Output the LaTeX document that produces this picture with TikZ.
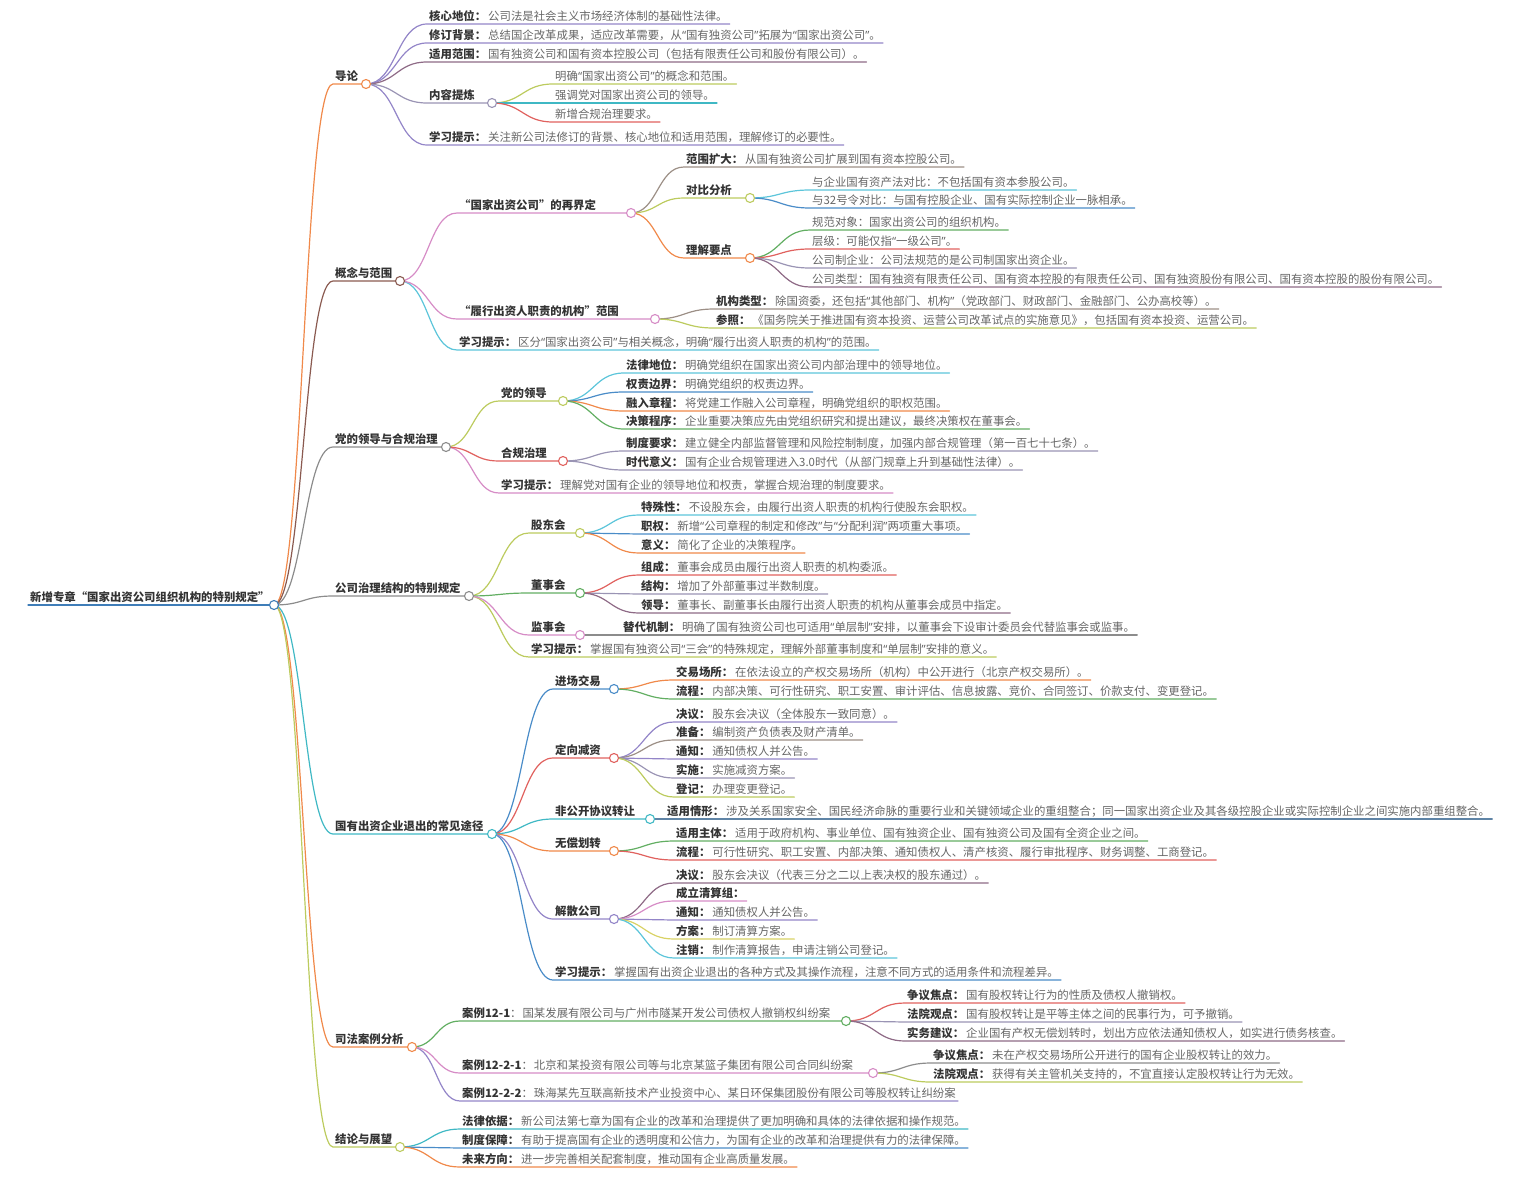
\documentclass[tikz,border=0pt]{standalone}
\usepackage{fontspec}
\setmainfont{Noto Sans CJK SC}
\newfontfamily\quotefont{Noto Sans}
\usepackage{tikz}
\usepackage{xcolor}
\usetikzlibrary{calc}

\definecolor{darktext}{HTML}{333333}
\definecolor{bodytext}{HTML}{666666}
\definecolor{cRoot}{HTML}{3F7DB8}
\definecolor{cOrange}{HTML}{F0894A}
\definecolor{cBrown}{HTML}{8A5A50}
\definecolor{cGray}{HTML}{8C8C8C}
\definecolor{cTeal}{HTML}{3FB8C4}
\definecolor{cYG}{HTML}{BCCB5E}
\definecolor{cPurple}{HTML}{9385C8}
\definecolor{cPlum}{HTML}{8E6A86}
\definecolor{cLav}{HTML}{9A94B4}
\definecolor{cCyan}{HTML}{5CC5DA}
\definecolor{cBlue}{HTML}{4A8CC8}
\definecolor{cGreen}{HTML}{62AE62}
\definecolor{cRed}{HTML}{E0615E}
\definecolor{cPink}{HTML}{D68CC6}
\definecolor{cTaupe}{HTML}{9C8F86}
\definecolor{cYellow}{HTML}{D9D265}
\definecolor{cSteel}{HTML}{5F84A6}

\newcommand{\lbl}[1]{{\color{darktext}\bfseries #1：}\hspace{2pt}}
\newcommand{\caselbl}[1]{{\color{darktext}\bfseries #1}：\hspace{1pt}}
\newcommand{\oq}[1]{{\quotefont“}#1{\quotefont”}}

\begin{document}
\begin{tikzpicture}[x=1pt,y=-1pt,
lab/.style={anchor=south west,inner xsep=2pt,inner ysep=3.7pt,text depth=0pt,
	font=\fontsize{11.4}{13}\selectfont,text=bodytext},
hd/.style={lab,font=\fontsize{11.4}{13}\selectfont\bfseries,text=darktext},
link/.style={line width=1.2pt,line cap=round},
dot/.style={circle,minimum size=9pt,inner sep=0,fill=white,line width=1.1pt}]
	\useasboundingbox (0,0) rectangle (1536,1191);

	\node[hd] (root) at (28,605) {新增专章“国家出资公司组织机构的特别规定”};
	\coordinate (o-root) at (274,605);

	%导论
	\node[hd] (intro) at (333,84) {导论};
	\coordinate (o-intro) at (366,84);
	\node[lab] (intro1) at (427,24) {\lbl{核心地位}公司法是社会主义市场经济体制的基础性法律。};
	\node[lab] (intro2) at (427,43) {\lbl{修订背景}总结国企改革成果，适应改革需要，从\oq{国有独资公司}拓展为\oq{国家出资公司}。};
	\node[lab] (intro3) at (427,62) {\lbl{适用范围}国有独资公司和国有资本控股公司（包括有限责任公司和股份有限公司）。};
	\node[hd] (intro4) at (427,103) {内容提炼};
	\coordinate (o-intro4) at (492,103);
	\node[lab] (intro4a) at (553,84) {明确\oq{国家出资公司}的概念和范围。};
	\node[lab] (intro4b) at (553,103) {强调党对国家出资公司的领导。};
	\node[lab] (intro4c) at (553,122) {新增合规治理要求。};
	\node[lab] (intro5) at (427,145) {\lbl{学习提示}关注新公司法修订的背景、核心地位和适用范围，理解修订的必要性。};

	%概念与范围
	\node[hd] (scope) at (333,281) {概念与范围};
	\coordinate (o-scope) at (400,281);
	\node[hd] (scope1) at (457,213) {“国家出资公司”的再界定};
	\coordinate (o-scope1) at (631,213);
	\node[lab] (scope1a) at (684,167) {\lbl{范围扩大}从国有独资公司扩展到国有资本控股公司。};
	\node[hd] (scope1b) at (684,198) {对比分析};
	\coordinate (o-scope1b) at (750,198);
	\node[lab] (scope1b1) at (810,190) {与企业国有资产法对比：不包括国有资本参股公司。};
	\node[lab] (scope1b2) at (810,208) {与32号令对比：与国有控股企业、国有实际控制企业一脉相承。};
	\node[hd] (scope1c) at (684,258) {理解要点};
	\coordinate (o-scope1c) at (750,258);
	\node[lab] (scope1c1) at (810,230) {规范对象：国家出资公司的组织机构。};
	\node[lab] (scope1c2) at (810,249) {层级：可能仅指\oq{一级公司}。};
	\node[lab] (scope1c3) at (810,268) {公司制企业：公司法规范的是公司制国家出资企业。};
	\node[lab] (scope1c4) at (810,287) {公司类型：国有独资有限责任公司、国有资本控股的有限责任公司、国有独资股份有限公司、国有资本控股的股份有限公司。};
	\node[hd] (scope2) at (457,319) {“履行出资人职责的机构”范围};
	\coordinate (o-scope2) at (655,319);
	\node[lab] (scope2a) at (714,309) {\lbl{机构类型}除国资委，还包括\oq{其他部门、机构}（党政部门、财政部门、金融部门、公办高校等）。};
	\node[lab] (scope2b) at (714,328) {\lbl{参照}《国务院关于推进国有资本投资、运营公司改革试点的实施意见》，包括国有资本投资、运营公司。};
	\node[lab] (scope3) at (457,350) {\lbl{学习提示}区分\oq{国家出资公司}与相关概念，明确\oq{履行出资人职责的机构}的范围。};

	%党的领导与合规治理
	\node[hd] (party) at (333,447) {党的领导与合规治理};
	\coordinate (o-party) at (446,447);
	\node[hd] (party1) at (499,401) {党的领导};
	\coordinate (o-party1) at (563,401);
	\node[lab] (party1a) at (624,373) {\lbl{法律地位}明确党组织在国家出资公司内部治理中的领导地位。};
	\node[lab] (party1b) at (624,392) {\lbl{权责边界}明确党组织的权责边界。};
	\node[lab] (party1c) at (624,411) {\lbl{融入章程}将党建工作融入公司章程，明确党组织的职权范围。};
	\node[lab] (party1d) at (624,429) {\lbl{决策程序}企业重要决策应先由党组织研究和提出建议，最终决策权在董事会。};
	\node[hd] (party2) at (499,461) {合规治理};
	\coordinate (o-party2) at (563,461);
	\node[lab] (party2a) at (624,451) {\lbl{制度要求}建立健全内部监督管理和风险控制制度，加强内部合规管理（第一百七十七条）。};
	\node[lab] (party2b) at (624,470) {\lbl{时代意义}国有企业合规管理进入3.0时代（从部门规章上升到基础性法律）。};
	\node[lab] (party3) at (499,493) {\lbl{学习提示}理解党对国有企业的领导地位和权责，掌握合规治理的制度要求。};

	%公司治理结构
	\node[hd] (gov) at (333,596) {公司治理结构的特别规定};
	\coordinate (o-gov) at (469,596);
	\node[hd] (gov1) at (529,533) {股东会};
	\coordinate (o-gov1) at (580,533);
	\node[lab] (gov1a) at (639,515) {\lbl{特殊性}不设股东会，由履行出资人职责的机构行使股东会职权。};
	\node[lab] (gov1b) at (639,534) {\lbl{职权}新增\oq{公司章程的制定和修改}与\oq{分配利润}两项重大事项。};
	\node[lab] (gov1c) at (639,553) {\lbl{意义}简化了企业的决策程序。};
	\node[hd] (gov2) at (529,593) {董事会};
	\coordinate (o-gov2) at (580,593);
	\node[lab] (gov2a) at (639,575) {\lbl{组成}董事会成员由履行出资人职责的机构委派。};
	\node[lab] (gov2b) at (639,594) {\lbl{结构}增加了外部董事过半数制度。};
	\node[lab] (gov2c) at (639,613) {\lbl{领导}董事长、副董事长由履行出资人职责的机构从董事会成员中指定。};
	\node[hd] (gov3) at (529,635) {监事会};
	\coordinate (o-gov3) at (580,635);
	\node[lab] (gov3a) at (621,635) {\lbl{替代机制}明确了国有独资公司也可适用\oq{单层制}安排，以董事会下设审计委员会代替监事会或监事。};
	\node[lab] (gov4) at (529,657) {\lbl{学习提示}掌握国有独资公司\oq{三会}的特殊规定，理解外部董事制度和\oq{单层制}安排的意义。};

	%国有出资企业退出
	\node[hd] (exit) at (333,834) {国有出资企业退出的常见途径};
	\coordinate (o-exit) at (492,834);
	\node[hd] (exit1) at (553,689) {进场交易};
	\coordinate (o-exit1) at (614,689);
	\node[lab] (exit1a) at (674,680) {\lbl{交易场所}在依法设立的产权交易场所（机构）中公开进行（北京产权交易所）。};
	\node[lab] (exit1b) at (674,699) {\lbl{流程}内部决策、可行性研究、职工安置、审计评估、信息披露、竞价、合同签订、价款支付、变更登记。};
	\node[hd] (exit2) at (553,758) {定向减资};
	\coordinate (o-exit2) at (614,758);
	\node[lab] (exit2a) at (674,722) {\lbl{决议}股东会决议（全体股东一致同意）。};
	\node[lab] (exit2b) at (674,740) {\lbl{准备}编制资产负债表及财产清单。};
	\node[lab] (exit2c) at (674,759) {\lbl{通知}通知债权人并公告。};
	\node[lab] (exit2d) at (674,778) {\lbl{实施}实施减资方案。};
	\node[lab] (exit2e) at (674,797) {\lbl{登记}办理变更登记。};
	\node[hd] (exit3) at (553,819) {非公开协议转让};
	\coordinate (o-exit3) at (650,819);
	\node[lab] (exit3a) at (665,819) {\lbl{适用情形}涉及关系国家安全、国民经济命脉的重要行业和关键领域企业的重组整合；同一国家出资企业及其各级控股企业或实际控制企业之间实施内部重组整合。};
	\node[hd] (exit4) at (553,851) {无偿划转};
	\coordinate (o-exit4) at (614,851);
	\node[lab] (exit4a) at (674,841) {\lbl{适用主体}适用于政府机构、事业单位、国有独资企业、国有独资公司及国有全资企业之间。};
	\node[lab] (exit4b) at (674,860) {\lbl{流程}可行性研究、职工安置、内部决策、通知债权人、清产核资、履行审批程序、财务调整、工商登记。};
	\node[hd] (exit5) at (553,919) {解散公司};
	\coordinate (o-exit5) at (614,919);
	\node[lab] (exit5a) at (674,883) {\lbl{决议}股东会决议（代表三分之二以上表决权的股东通过）。};
	\node[lab] (exit5b) at (674,901) {\lbl{成立清算组}};
	\node[lab] (exit5c) at (674,920) {\lbl{通知}通知债权人并公告。};
	\node[lab] (exit5d) at (674,939) {\lbl{方案}制订清算方案。};
	\node[lab] (exit5e) at (674,958) {\lbl{注销}制作清算报告，申请注销公司登记。};
	\node[lab] (exit6) at (553,980) {\lbl{学习提示}掌握国有出资企业退出的各种方式及其操作流程，注意不同方式的适用条件和流程差异。};

	%司法案例分析
	\node[hd] (cases) at (333,1047) {司法案例分析};
	\coordinate (o-cases) at (412,1047);
	\node[lab] (cases1) at (460,1021) {\caselbl{案例12-1}国某发展有限公司与广州市隧某开发公司债权人撤销权纠纷案};
	\coordinate (o-cases1) at (846,1021);
	\node[lab] (cases1a) at (905,1003) {\lbl{争议焦点}国有股权转让行为的性质及债权人撤销权。};
	\node[lab] (cases1b) at (905,1022) {\lbl{法院观点}国有股权转让是平等主体之间的民事行为，可予撤销。};
	\node[lab] (cases1c) at (905,1041) {\lbl{实务建议}企业国有产权无偿划转时，划出方应依法通知债权人，如实进行债务核查。};
	\node[lab] (cases2) at (460,1073) {\caselbl{案例12-2-1}北京和某投资有限公司等与北京某篮子集团有限公司合同纠纷案};
	\coordinate (o-cases2) at (873,1073);
	\node[lab] (cases2a) at (931,1063) {\lbl{争议焦点}未在产权交易场所公开进行的国有企业股权转让的效力。};
	\node[lab] (cases2b) at (931,1082) {\lbl{法院观点}获得有关主管机关支持的，不宜直接认定股权转让行为无效。};
	\node[lab] (cases3) at (460,1101) {\caselbl{案例12-2-2}珠海某先互联高新技术产业投资中心、某日环保集团股份有限公司等股权转让纠纷案};

	%结论与展望
	\node[hd] (concl) at (333,1147) {结论与展望};
	\coordinate (o-concl) at (400,1147);
	\node[lab] (concl1) at (460,1129) {\lbl{法律依据}新公司法第七章为国有企业的改革和治理提供了更加明确和具体的法律依据和操作规范。};
	\node[lab] (concl2) at (460,1148) {\lbl{制度保障}有助于提高国有企业的透明度和公信力，为国有企业的改革和治理提供有力的法律保障。};
	\node[lab] (concl3) at (460,1167) {\lbl{未来方向}进一步完善相关配套制度，推动国有企业高质量发展。};

	%leaves
	\foreach \pa/\ch/\cl in {intro/intro1/cPurple, intro/intro2/cPurple, intro/intro3/cPlum, intro/intro5/cPurple,
		intro4/intro4a/cYG, intro4/intro4b/cTeal, intro4/intro4c/cRed,
		scope/scope3/cCyan, scope1/scope1a/cTaupe, scope1b/scope1b1/cCyan, scope1b/scope1b2/cBlue,
		scope1c/scope1c1/cGreen, scope1c/scope1c2/cRed, scope1c/scope1c3/cLav, scope1c/scope1c4/cPlum,
		scope2/scope2a/cTaupe, scope2/scope2b/cYG,
		party/party3/cPink, party1/party1a/cCyan, party1/party1b/cBlue, party1/party1c/cOrange, party1/party1d/cGreen,
		party2/party2a/cLav, party2/party2b/cLav,
		gov/gov4/cYG, gov1/gov1a/cCyan, gov1/gov1b/cBlue, gov1/gov1c/cOrange,
		gov2/gov2a/cRed, gov2/gov2b/cLav, gov2/gov2c/cPlum, gov3/gov3a/cGray,
		exit/exit6/cBlue, exit1/exit1a/cOrange, exit1/exit1b/cGreen,
		exit2/exit2a/cPurple, exit2/exit2b/cTaupe, exit2/exit2c/cPurple, exit2/exit2d/cLav, exit2/exit2e/cYG,
		exit3/exit3a/cSteel, exit4/exit4a/cGreen, exit4/exit4b/cRed,
		exit5/exit5a/cPlum, exit5/exit5b/cPink, exit5/exit5c/cPurple, exit5/exit5d/cYellow, exit5/exit5e/cCyan,
		cases/cases3/cPurple, cases1/cases1a/cRed, cases1/cases1b/cLav, cases1/cases1c/cPlum,
		cases2/cases2a/cGray, cases2/cases2b/cYG,
		concl/concl1/cTeal, concl/concl2/cBlue, concl/concl3/cOrange} {
		\draw[link,\cl] let \p1=(o-\pa), \p2=(\ch.south west) in
			(\p1) .. controls (\x1/2+\x2/2,\y1) and (\x1/2+\x2/2,\y2) .. (\p2) -- (\ch.south east);
	}
	%branches, deepest first
	\foreach \pa/\ch/\cl in {intro/intro4/cLav, scope1/scope1b/cYG, scope1/scope1c/cOrange,
		scope/scope1/cPink, scope/scope2/cPink, party/party1/cYG, party/party2/cRed,
		gov/gov1/cYG, gov/gov2/cGreen, gov/gov3/cPink,
		exit/exit1/cBlue, exit/exit2/cRed, exit/exit3/cTeal, exit/exit4/cOrange, exit/exit5/cPurple,
		cases/cases1/cGreen, cases/cases2/cPink,
		root/intro/cOrange, root/scope/cBrown, root/party/cGray, root/gov/cGray,
		root/exit/cTeal, root/cases/cOrange, root/concl/cYG} {
		\draw[link,\cl] let \p1=(o-\pa), \p2=(\ch.south west) in
			(\p1) .. controls (\x1/2+\x2/2,\y1) and (\x1/2+\x2/2,\y2) .. (\p2) -- (o-\ch);
		\node[dot,draw=\cl] (d-\ch) at (o-\ch) {};
	}
	\draw[link,cRoot] (root.south west) -- (o-root);
	\node[dot,draw=cRoot] (d-root) at (o-root) {};
\end{tikzpicture}
\end{document}
